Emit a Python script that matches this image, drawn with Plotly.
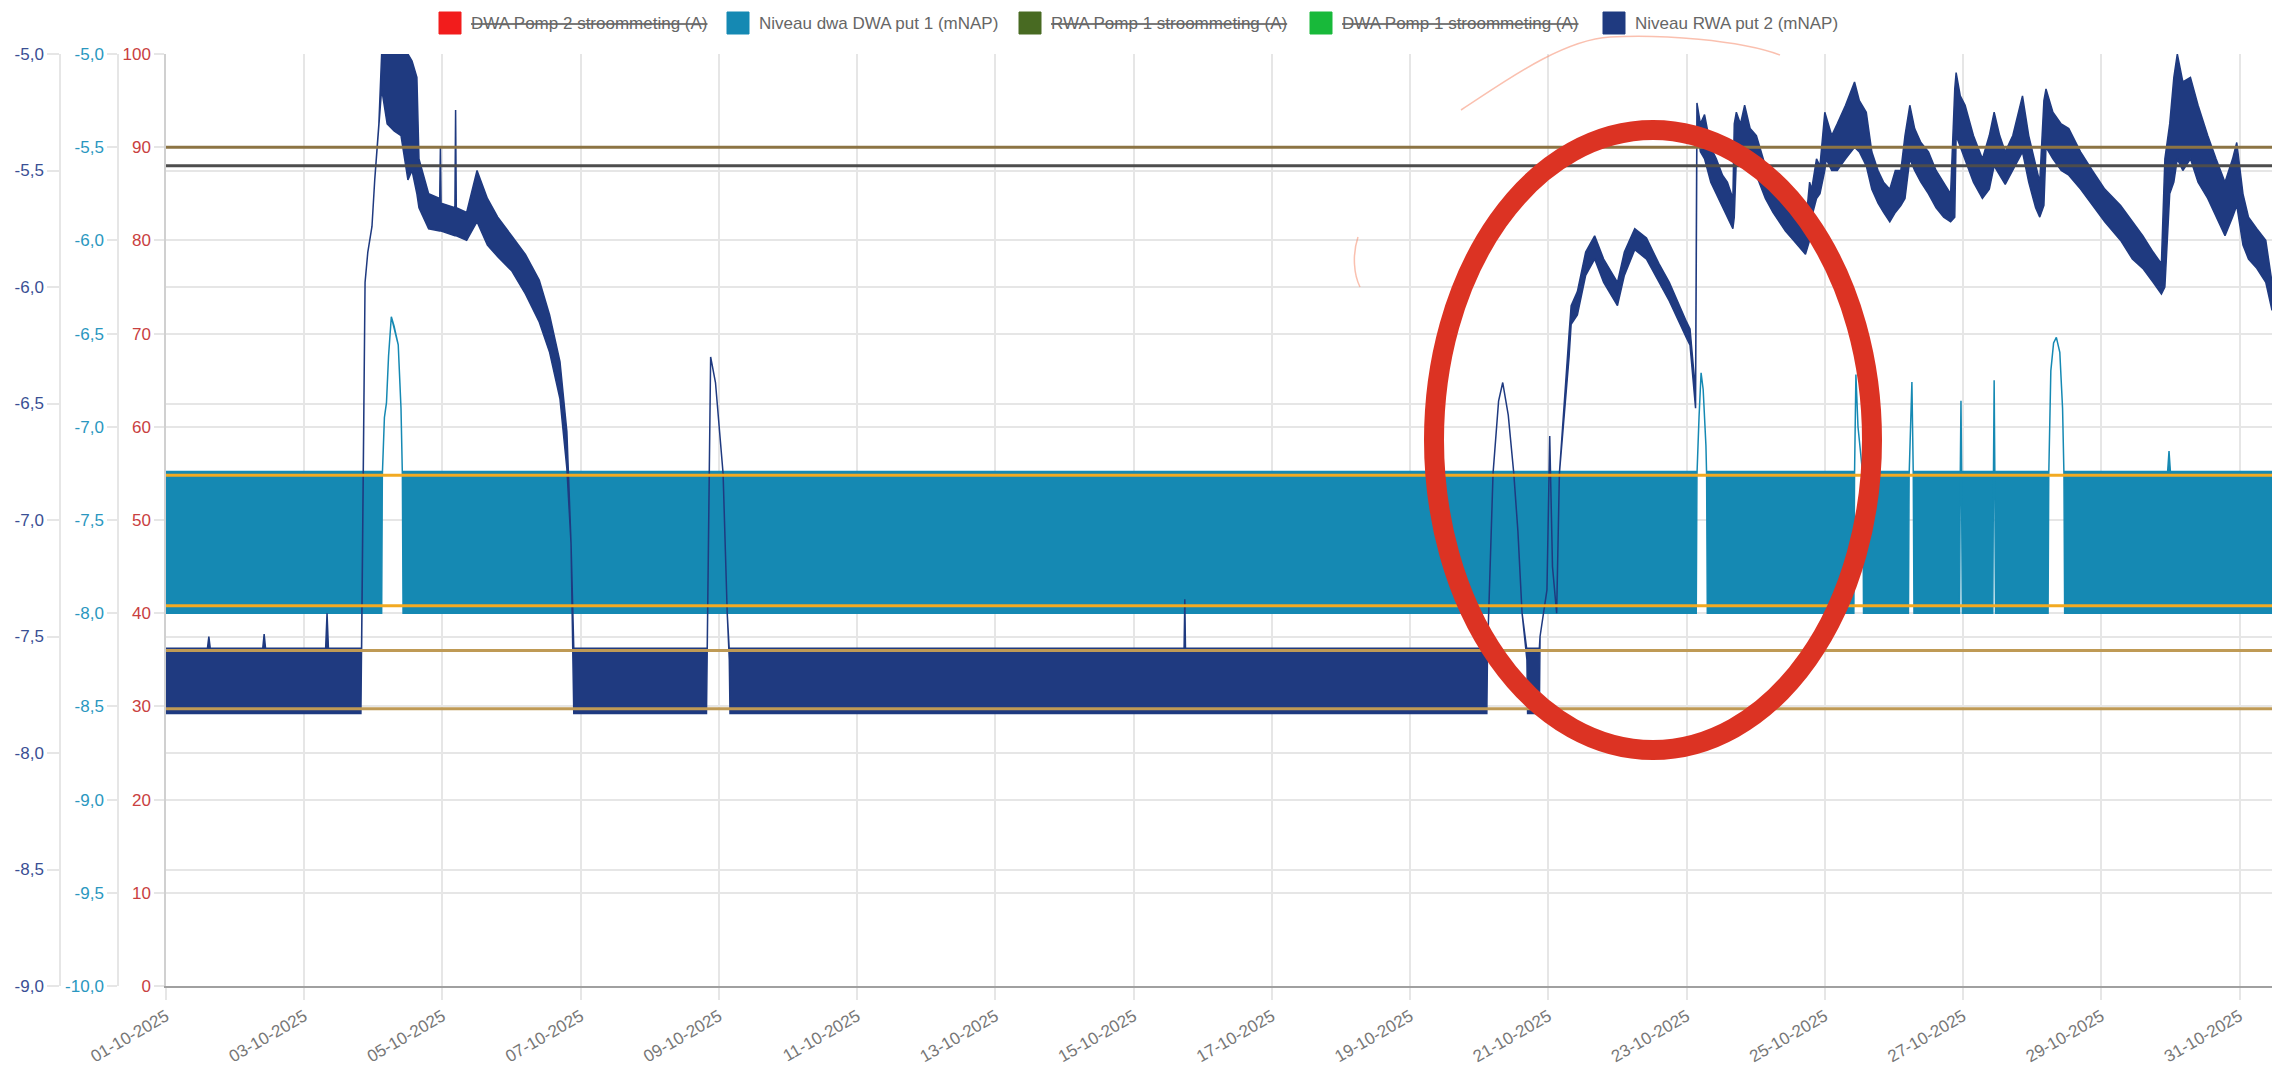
import pandas as pd
import plotly.graph_objects as go

# ---------------- data ----------------
BASE = pd.Timestamp("2025-10-01 00:00")
X_END_DAY = 30.47  # right edge of the chart, days after 01-10-2025 00:00

# Niveau dwa DWA put 1 (mNAP) -- upper / lower envelope of the signal
DWA_DAY = [0.00, 3.12, 3.13, 3.16, 3.19, 3.22, 3.26, 3.30, 3.36, 3.40, 3.42, 3.43,
           22.14, 22.15, 22.18, 22.21, 22.24, 22.28, 22.29, 22.30,
           24.42, 24.43, 24.45, 24.48, 24.55, 24.56,
           25.21, 25.22, 25.26, 25.28, 25.29,
           25.95, 25.96, 25.97, 25.98, 25.99,
           26.43, 26.44, 26.45, 26.46, 26.47,
           27.23, 27.24, 27.27, 27.31, 27.35, 27.40, 27.44, 27.46, 27.47,
           28.96, 28.98, 29.00, 30.47]
DWA_HI = [-7.24, -7.24, -7.26, -6.95, -6.87, -6.62, -6.41, -6.46, -6.56, -6.90, -7.26, -7.24,
          -7.24, -7.26, -6.95, -6.71, -6.80, -7.10, -7.26, -7.24,
          -7.24, -7.26, -6.72, -7.00, -7.26, -7.24,
          -7.24, -7.26, -6.76, -7.26, -7.24,
          -7.24, -7.26, -6.86, -7.26, -7.24,
          -7.24, -7.26, -6.75, -7.26, -7.24,
          -7.24, -7.26, -6.70, -6.55, -6.52, -6.60, -6.90, -7.26, -7.24,
          -7.24, -7.13, -7.24, -7.24]
DWA_LO = [-8.00, -8.00, -7.26, -6.95, -6.87, -6.62, -6.41, -6.46, -6.56, -6.90, -7.26, -8.00,
          -8.00, -7.26, -6.95, -6.71, -6.80, -7.10, -7.26, -8.00,
          -8.00, -7.26, -6.72, -7.00, -7.26, -8.00,
          -8.00, -7.26, -6.76, -7.26, -8.00,
          -8.00, -7.26, -6.86, -7.26, -8.00,
          -8.00, -7.26, -6.75, -7.26, -8.00,
          -8.00, -7.26, -6.70, -6.55, -6.52, -6.60, -6.90, -7.26, -8.00,
          -8.00, -8.00, -8.00, -8.00]

# Niveau RWA put 2 (mNAP) -- upper / lower envelope of the signal
RWA_DAY = [0.00, 0.60, 0.62, 0.64, 1.40, 1.42, 1.44, 2.31, 2.33, 2.35, 2.82, 2.83,
           2.88, 2.92, 2.98, 3.02, 3.08, 3.12,
           3.20, 3.30, 3.40, 3.50, 3.56, 3.63, 3.66, 3.80, 3.96, 3.97, 3.98, 4.18,
           4.19, 4.20, 4.35, 4.50, 4.65, 4.80, 5.00, 5.20, 5.40, 5.55, 5.70, 5.80,
           5.86, 5.89, 5.90, 7.82, 7.83, 7.86, 7.88, 7.95, 8.00, 8.06, 8.12, 8.15,
           8.16, 14.73, 14.74, 14.75, 19.11, 19.12, 19.20, 19.28, 19.34, 19.42,
           19.50, 19.56, 19.62, 19.69, 19.70, 19.87, 19.88, 19.98, 20.02, 20.06,
           20.12, 20.16, 20.30, 20.33, 20.42, 20.54, 20.67, 20.80, 21.00, 21.10,
           21.25, 21.42, 21.60, 21.75, 22.00, 22.05, 22.13,
           22.15, 22.20, 22.26, 22.35, 22.43, 22.52, 22.59, 22.67, 22.69, 22.72,
           22.78, 22.84, 22.92, 23.01, 23.14, 23.25, 23.43, 23.55, 23.72, 23.78,
           23.81, 23.88, 23.93, 24.00, 24.02, 24.10, 24.18, 24.30, 24.43, 24.50,
           24.60, 24.68, 24.77, 24.85, 24.94, 25.02, 25.10, 25.16, 25.23, 25.30,
           25.39, 25.50, 25.61, 25.72, 25.82, 25.88, 25.90, 25.96, 26.03, 26.15,
           26.28, 26.38, 26.45, 26.53, 26.61, 26.72, 26.86, 26.95, 27.05, 27.11,
           27.17, 27.20, 27.30, 27.42, 27.53, 27.70, 27.87, 28.05, 28.28, 28.45,
           28.60, 28.75, 28.87, 28.92, 28.99, 29.05, 29.10, 29.18, 29.29, 29.40,
           29.54, 29.66, 29.79, 29.90, 29.96, 30.05, 30.13, 30.25, 30.38, 30.47]
RWA_HI = [-7.55, -7.55, -7.50, -7.55, -7.55, -7.49, -7.55, -7.55, -7.40, -7.55, -7.55, -7.57,
          -5.98, -5.85, -5.74, -5.54, -5.30, -5.00,
          -5.00, -5.00, -5.00, -5.00, -5.03, -5.10, -5.45, -5.60, -5.62, -5.40, -5.64, -5.66,
          -5.24, -5.66, -5.68, -5.50, -5.62, -5.70, -5.78, -5.86, -5.97, -6.12, -6.32, -6.62,
          -7.10, -7.55, -7.55, -7.55, -7.56, -6.80, -6.30, -6.41, -6.60, -6.80, -7.40, -7.56,
          -7.55, -7.55, -7.34, -7.55, -7.55, -7.56, -6.80, -6.49, -6.41, -6.55,
          -6.80, -7.05, -7.40, -7.56, -7.55, -7.55, -7.50, -7.30, -6.64, -7.20,
          -7.40, -6.80, -6.20, -6.08, -6.02, -5.85, -5.78, -5.88, -5.98, -5.85,
          -5.75, -5.79, -5.90, -5.98, -6.15, -6.18, -6.45,
          -5.21, -5.30, -5.26, -5.40, -5.45, -5.52, -5.55, -5.62, -5.30, -5.25,
          -5.30, -5.22, -5.32, -5.35, -5.48, -5.52, -5.62, -5.66, -5.74, -5.55,
          -5.58, -5.45, -5.48, -5.25, -5.27, -5.35, -5.30, -5.22, -5.12, -5.20,
          -5.25, -5.42, -5.50, -5.55, -5.58, -5.50, -5.50, -5.35, -5.22, -5.32,
          -5.38, -5.42, -5.50, -5.55, -5.60, -5.15, -5.08, -5.18, -5.22, -5.35,
          -5.45, -5.35, -5.25, -5.35, -5.42, -5.35, -5.18, -5.35, -5.48, -5.55,
          -5.20, -5.15, -5.25, -5.30, -5.32, -5.42, -5.50, -5.58, -5.65, -5.72,
          -5.78, -5.85, -5.90, -5.45, -5.30, -5.10, -5.00, -5.12, -5.10, -5.22,
          -5.35, -5.45, -5.55, -5.45, -5.38, -5.60, -5.70, -5.75, -5.80, -5.98]
RWA_LO = [-7.83, -7.83, -7.83, -7.83, -7.83, -7.83, -7.83, -7.83, -7.83, -7.83, -7.83, -7.57,
          -5.98, -5.85, -5.74, -5.54, -5.30, -5.15,
          -5.30, -5.33, -5.35, -5.54, -5.50, -5.60, -5.66, -5.75, -5.76, -5.76, -5.76, -5.78,
          -5.78, -5.78, -5.80, -5.72, -5.82, -5.87, -5.93, -6.03, -6.15, -6.28, -6.48, -6.78,
          -7.10, -7.60, -7.83, -7.83, -7.56, -6.80, -6.30, -6.41, -6.60, -6.80, -7.40, -7.60,
          -7.83, -7.83, -7.83, -7.83, -7.83, -7.56, -6.80, -6.49, -6.41, -6.55,
          -6.80, -7.05, -7.40, -7.60, -7.83, -7.83, -7.50, -7.30, -6.64, -7.20,
          -7.40, -6.80, -6.30, -6.16, -6.12, -5.95, -5.88, -5.98, -6.08, -5.95,
          -5.84, -5.88, -5.98, -6.06, -6.22, -6.25, -6.52,
          -5.32, -5.42, -5.45, -5.55, -5.60, -5.66, -5.70, -5.75, -5.70, -5.45,
          -5.42, -5.40, -5.48, -5.52, -5.62, -5.68, -5.76, -5.80, -5.86, -5.80,
          -5.70, -5.62, -5.60, -5.50, -5.45, -5.50, -5.50, -5.45, -5.40, -5.42,
          -5.48, -5.58, -5.64, -5.68, -5.72, -5.68, -5.65, -5.62, -5.45, -5.50,
          -5.55, -5.60, -5.66, -5.70, -5.72, -5.70, -5.35, -5.40, -5.45, -5.55,
          -5.62, -5.58, -5.48, -5.52, -5.56, -5.50, -5.42, -5.55, -5.66, -5.70,
          -5.65, -5.40, -5.45, -5.50, -5.52, -5.58, -5.65, -5.72, -5.80, -5.88,
          -5.92, -5.98, -6.03, -6.00, -5.60, -5.55, -5.45, -5.50, -5.45, -5.55,
          -5.62, -5.70, -5.78, -5.70, -5.65, -5.82, -5.88, -5.92, -5.98, -6.10]

# horizontal reference levels
DWA_LEVELS = [-7.26, -7.96]          # orange, DWA put 1 axis
RWA_LEVELS = [-7.56, -7.81]          # tan, RWA put 2 axis
RWA_GREY_LEVEL = -5.48               # dark grey, RWA put 2 axis
CURRENT_LEVEL = 90                   # brown, current axis (A)

# axes ticks
X_TICK_DAYS = list(range(0, 31, 2))
X_TICK_TEXT = [(BASE + pd.Timedelta(days=d)).strftime("%d-%m-%Y") for d in X_TICK_DAYS]
Y_CURR_TICKS = [0, 10, 20, 30, 40, 50, 60, 70, 80, 90, 100]
Y_DWA_TICKS = [-10.0, -9.5, -9.0, -8.5, -8.0, -7.5, -7.0, -6.5, -6.0, -5.5, -5.0]
Y_RWA_TICKS = [-9.0, -8.5, -8.0, -7.5, -7.0, -6.5, -6.0, -5.5, -5.0]

LEGEND_NAMES = ["DWA Pomp 2 stroommeting (A)", "Niveau dwa DWA put 1 (mNAP)",
                "RWA Pomp 1 stroommeting (A)", "DWA Pomp 1 stroommeting (A)",
                "Niveau RWA put 2 (mNAP)"]
LEGEND_HIDDEN = [True, False, True, True, False]
LEGEND_COLORS = ["#f21c1c", "#1589b3", "#486a22", "#18b93a", "#1f3a80"]

# ---------------- layout helpers ----------------
W, H = 2288, 1073
ML, MR, MT, MB = 0, 16, 54, 87
PW, PH = W - ML - MR, H - MT - MB


def px(x):
    return (x - ML) / PW


def py(y):
    return (H - MB - y) / PH


def to_time(days):
    return [BASE + pd.Timedelta(days=d) for d in days]


def fmt(v):
    return f"{v:.1f}".replace(".", ",")


FONT = "Liberation Sans, Arial, Helvetica, sans-serif"
C_DWA = "#1589b3"
C_RWA = "#1f3a80"

fig = go.Figure()

# DWA put 1 envelope polygon
fig.add_trace(go.Scatter(
    x=to_time(DWA_DAY + DWA_DAY[::-1]), y=DWA_HI + DWA_LO[::-1],
    mode="lines", fill="toself", fillcolor=C_DWA,
    line=dict(color=C_DWA, width=1.5), name=LEGEND_NAMES[1],
    yaxis="y2", showlegend=False, hoverinfo="skip"))

# RWA put 2 envelope polygon
fig.add_trace(go.Scatter(
    x=to_time(RWA_DAY + RWA_DAY[::-1]), y=RWA_HI + RWA_LO[::-1],
    mode="lines", fill="toself", fillcolor=C_RWA,
    line=dict(color=C_RWA, width=1.5), name=LEGEND_NAMES[4],
    yaxis="y3", showlegend=False, hoverinfo="skip"))

shapes = []
x0p = px(166)
for lv in DWA_LEVELS:
    shapes.append(dict(type="line", xref="paper", x0=x0p, x1=1, yref="y2", y0=lv, y1=lv,
                       line=dict(color="#f2aa22", width=3), layer="above"))
for lv in RWA_LEVELS:
    shapes.append(dict(type="line", xref="paper", x0=x0p, x1=1, yref="y3", y0=lv, y1=lv,
                       line=dict(color="#bf9a55", width=3), layer="above"))
shapes.append(dict(type="line", xref="paper", x0=x0p, x1=1, yref="y3",
                   y0=RWA_GREY_LEVEL, y1=RWA_GREY_LEVEL,
                   line=dict(color="#4d4d4d", width=3), layer="above"))
shapes.append(dict(type="line", xref="paper", x0=x0p, x1=1, yref="y",
                   y0=CURRENT_LEVEL, y1=CURRENT_LEVEL,
                   line=dict(color="#8c7444", width=3), layer="above"))

# hand-drawn red ellipse
shapes.append(dict(type="circle", xref="paper", yref="paper",
                   x0=px(1434), x1=px(1872), y0=py(750), y1=py(130),
                   line=dict(color="#dc3323", width=20), layer="above"))


def pth(pts):
    s = "M {:.5f},{:.5f}".format(px(pts[0][0]), py(pts[0][1]))
    rest = pts[1:]
    for i in range(0, len(rest), 3):
        a, b, c = rest[i], rest[i + 1], rest[i + 2]
        s += " C {:.5f},{:.5f} {:.5f},{:.5f} {:.5f},{:.5f}".format(
            px(a[0]), py(a[1]), px(b[0]), py(b[1]), px(c[0]), py(c[1]))
    return s


shapes.append(dict(type="path", xref="paper", yref="paper",
                   path=pth([(1461, 110), (1500, 85), (1560, 40), (1610, 37),
                             (1660, 34), (1740, 40), (1780, 55)]),
                   line=dict(color="rgba(245,140,110,0.55)", width=1.5), layer="above"))
shapes.append(dict(type="path", xref="paper", yref="paper",
                   path=pth([(1358, 237), (1352, 255), (1354, 275), (1360, 287)]),
                   line=dict(color="rgba(245,140,110,0.55)", width=1.5), layer="above"))

# custom legend
annotations = []
LEG_BOX_X = [439, 727, 1019, 1310, 1603]
for bx, name, hid, col in zip(LEG_BOX_X, LEGEND_NAMES, LEGEND_HIDDEN, LEGEND_COLORS):
    shapes.append(dict(type="rect", xref="paper", yref="paper",
                       x0=px(bx), x1=px(bx + 22), y0=py(34), y1=py(12),
                       fillcolor=col, line=dict(color=col, width=1)))
    txt = f'<span style="text-decoration:line-through">{name}</span>' if hid else name
    annotations.append(dict(xref="paper", yref="paper", x=px(bx + 30), y=py(23),
                            xanchor="left", yanchor="middle", showarrow=False,
                            text=txt, font=dict(family=FONT, size=17, color="#666666")))

grid = "#e6e6e6"
fig.update_layout(
    width=W, height=H,
    margin=dict(l=ML, r=MR, t=MT, b=MB, autoexpand=False),
    paper_bgcolor="white", plot_bgcolor="white",
    showlegend=False,
    font=dict(family=FONT, size=17, color="#666666"),
    xaxis=dict(type="date", domain=[x0p, 1],
               range=[BASE, BASE + pd.Timedelta(days=X_END_DAY)],
               tickvals=to_time(X_TICK_DAYS), ticktext=X_TICK_TEXT,
               tickangle=-30, tickfont=dict(size=17, color="#777777"),
               showgrid=True, gridcolor=grid, gridwidth=1.5,
               ticks="outside", ticklen=12, tickcolor=grid, tickwidth=1.5,
               showline=True, linecolor="#a0a0a0", linewidth=2,
               zeroline=False, automargin=False),
    yaxis=dict(range=[0, 100], tickvals=Y_CURR_TICKS, ticktext=[str(v) for v in Y_CURR_TICKS],
               tickfont=dict(size=17, color="#c94040"),
               showgrid=True, gridcolor=grid, gridwidth=1.5,
               ticks="outside", ticklen=10, tickcolor=grid, tickwidth=1.5,
               showline=True, linecolor="#d0d0d0", linewidth=1.5,
               zeroline=False, automargin=False),
    yaxis2=dict(range=[-10, -5], overlaying="y", anchor="free", position=px(118), side="left",
                tickvals=Y_DWA_TICKS, ticktext=[fmt(v) for v in Y_DWA_TICKS],
                tickfont=dict(size=17, color="#2a97c0"),
                showgrid=True, gridcolor=grid, gridwidth=1.5,
                ticks="outside", ticklen=10, tickcolor=grid, tickwidth=1.5,
                showline=True, linecolor=grid, linewidth=1.5,
                zeroline=False, automargin=False),
    yaxis3=dict(range=[-9, -5], overlaying="y", anchor="free", position=px(60), side="left",
                tickvals=Y_RWA_TICKS, ticktext=[fmt(v) for v in Y_RWA_TICKS],
                tickfont=dict(size=17, color="#3a4f94"),
                showgrid=True, gridcolor=grid, gridwidth=1.5,
                ticks="outside", ticklen=12, tickcolor=grid, tickwidth=1.5,
                showline=True, linecolor=grid, linewidth=1.5,
                zeroline=False, automargin=False),
    shapes=shapes,
    annotations=annotations,
)

fig.write_html("out.html", config={"displayModeBar": False},
               post_script="document.body.style.margin='0';document.body.style.overflow='hidden';")
